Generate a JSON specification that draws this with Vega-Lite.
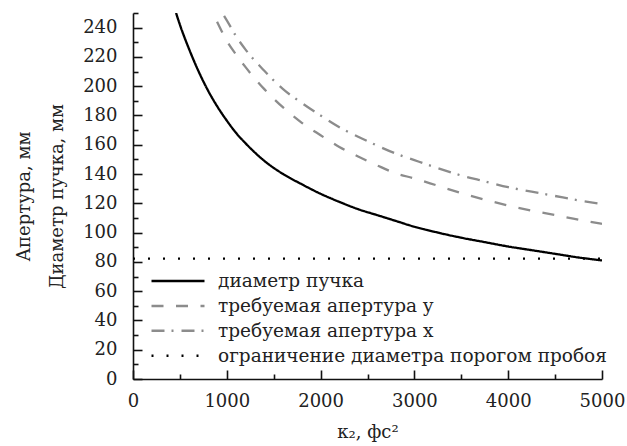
{
  "$schema": "https://vega.github.io/schema/vega-lite/v6.json",
  "autosize": "none",
  "width": 469,
  "height": 366,
  "padding": {"left": 133, "top": 13, "right": 25, "bottom": 67},
  "background": "white",
  "config": {
    "font": "DejaVu Serif",
    "view": {"stroke": null},
    "axis": {"grid": false, "domainColor": "#111", "domainWidth": 1.6, "tickColor": "#111", "tickWidth": 1.6,
             "labelFont": "DejaVu Serif", "labelFontSize": 18, "labelColor": "#222", "titleFont": "DejaVu Serif",
             "titleFontSize": 18, "titleFontWeight": "normal", "titleColor": "#222"}
  },
  "data": {"values": [
    {"s": "диаметр пучка", "k": 459, "v": 250},
    {"s": "диаметр пучка", "k": 500, "v": 242},
    {"s": "диаметр пучка", "k": 600, "v": 225},
    {"s": "диаметр пучка", "k": 700, "v": 210},
    {"s": "диаметр пучка", "k": 800, "v": 197},
    {"s": "диаметр пучка", "k": 900, "v": 186},
    {"s": "диаметр пучка", "k": 1000, "v": 176.5},
    {"s": "диаметр пучка", "k": 1100, "v": 168},
    {"s": "диаметр пучка", "k": 1200, "v": 161},
    {"s": "диаметр пучка", "k": 1400, "v": 149},
    {"s": "диаметр пучка", "k": 1600, "v": 140},
    {"s": "диаметр пучка", "k": 1800, "v": 133},
    {"s": "диаметр пучка", "k": 2000, "v": 126.5},
    {"s": "диаметр пучка", "k": 2200, "v": 121},
    {"s": "диаметр пучка", "k": 2400, "v": 116},
    {"s": "диаметр пучка", "k": 2600, "v": 112},
    {"s": "диаметр пучка", "k": 2800, "v": 108},
    {"s": "диаметр пучка", "k": 3000, "v": 104},
    {"s": "диаметр пучка", "k": 3250, "v": 100},
    {"s": "диаметр пучка", "k": 3500, "v": 96.5},
    {"s": "диаметр пучка", "k": 3750, "v": 93.5},
    {"s": "диаметр пучка", "k": 4000, "v": 90.5},
    {"s": "диаметр пучка", "k": 4250, "v": 88},
    {"s": "диаметр пучка", "k": 4500, "v": 85.5},
    {"s": "диаметр пучка", "k": 4750, "v": 83},
    {"s": "диаметр пучка", "k": 5000, "v": 81},
    {"s": "требуемая апертура y", "k": 896, "v": 244},
    {"s": "требуемая апертура y", "k": 1000, "v": 231},
    {"s": "требуемая апертура y", "k": 1100, "v": 221.5},
    {"s": "требуемая апертура y", "k": 1200, "v": 213},
    {"s": "требуемая апертура y", "k": 1400, "v": 198},
    {"s": "требуемая апертура y", "k": 1600, "v": 185.5},
    {"s": "требуемая апертура y", "k": 1800, "v": 175},
    {"s": "требуемая апертура y", "k": 2000, "v": 166.5},
    {"s": "требуемая апертура y", "k": 2200, "v": 158.5},
    {"s": "требуемая апертура y", "k": 2400, "v": 152},
    {"s": "требуемая апертура y", "k": 2600, "v": 146},
    {"s": "требуемая апертура y", "k": 2800, "v": 140.5},
    {"s": "требуемая апертура y", "k": 3000, "v": 137},
    {"s": "требуемая апертура y", "k": 3250, "v": 132},
    {"s": "требуемая апертура y", "k": 3500, "v": 127},
    {"s": "требуемая апертура y", "k": 3750, "v": 122.5},
    {"s": "требуемая апертура y", "k": 4000, "v": 118.5},
    {"s": "требуемая апертура y", "k": 4250, "v": 115},
    {"s": "требуемая апертура y", "k": 4500, "v": 112},
    {"s": "требуемая апертура y", "k": 4750, "v": 108.8},
    {"s": "требуемая апертура y", "k": 5000, "v": 106},
    {"s": "требуемая апертура x", "k": 971, "v": 248},
    {"s": "требуемая апертура x", "k": 1000, "v": 245},
    {"s": "требуемая апертура x", "k": 1100, "v": 234},
    {"s": "требуемая апертура x", "k": 1200, "v": 225},
    {"s": "требуемая апертура x", "k": 1400, "v": 210.5},
    {"s": "требуемая апертура x", "k": 1600, "v": 198},
    {"s": "требуемая апертура x", "k": 1800, "v": 188.5},
    {"s": "требуемая апертура x", "k": 2000, "v": 180},
    {"s": "требуемая апертура x", "k": 2200, "v": 172},
    {"s": "требуемая апертура x", "k": 2400, "v": 165.5},
    {"s": "требуемая апертура x", "k": 2600, "v": 159.5},
    {"s": "требуемая апертура x", "k": 2800, "v": 154},
    {"s": "требуемая апертура x", "k": 3000, "v": 149.5},
    {"s": "требуемая апертура x", "k": 3250, "v": 144},
    {"s": "требуемая апертура x", "k": 3500, "v": 139},
    {"s": "требуемая апертура x", "k": 3750, "v": 135},
    {"s": "требуемая апертура x", "k": 4000, "v": 131},
    {"s": "требуемая апертура x", "k": 4250, "v": 128},
    {"s": "требуемая апертура x", "k": 4500, "v": 125},
    {"s": "требуемая апертура x", "k": 4750, "v": 122},
    {"s": "требуемая апертура x", "k": 5000, "v": 119.5},
    {"s": "ограничение диаметра порогом пробоя", "k": 0, "v": 82.2},
    {"s": "ограничение диаметра порогом пробоя", "k": 5000, "v": 82.2}
  ]},
  "mark": {"type": "line", "strokeWidth": 2.3, "clip": true, "interpolate": "monotone"},
  "encoding": {
    "x": {"field": "k", "type": "quantitative",
          "scale": {"domain": [0, 5000], "nice": false, "zero": false},
          "axis": {"title": "κ₂, фс²", "values": [0,500,1000,1500,2000,2500,3000,3500,4000,4500,5000],
                   "labelExpr": "datum.value % 1000 === 0 ? datum.label : ''", "format": "d",
                   "tickSize": {"condition": {"test": "datum.value % 1000 === 0", "value": -9}, "value": -5},
                   "labelPadding": 22, "titlePadding": 13, "labelFlush": false}},
    "y": {"field": "v", "type": "quantitative",
          "scale": {"domain": [0, 250], "nice": false, "zero": false},
          "axis": {"title": ["Апертура, мм", "Диаметр пучка, мм"], "titleLineHeight": 33,
                   "values": [0,10,20,30,40,50,60,70,80,90,100,110,120,130,140,150,160,170,180,190,200,210,220,230,240,250],
                   "labelExpr": "datum.value % 20 === 0 ? datum.label : ''", "format": "d",
                   "tickSize": {"condition": {"test": "datum.value % 20 === 0", "value": -9}, "value": -5},
                   "labelPadding": 25, "titlePadding": 16, "labelFlush": false}},
    "color": {"field": "s", "type": "nominal",
              "scale": {"domain": ["диаметр пучка", "требуемая апертура y", "требуемая апертура x", "ограничение диаметра порогом пробоя"],
                        "range": ["#000000", "#8c8c8c", "#8c8c8c", "#000000"]},
              "legend": {"title": null, "orient": "none", "legendX": 17, "legendY": 258,
                         "symbolType": "stroke", "symbolSize": 2809, "symbolStrokeWidth": 2.5,
                         "labelFont": "DejaVu Serif", "labelFontSize": 18.5, "labelColor": "#222", "labelOffset": 12,
                         "clipHeight": 20, "rowPadding": 4.9, "padding": 0, "labelLimit": 500}},
    "strokeDash": {"field": "s", "type": "nominal",
                   "scale": {"domain": ["диаметр пучка", "требуемая апертура y", "требуемая апертура x", "ограничение диаметра порогом пробоя"],
                             "range": [[1, 0], [12, 12.5], [13, 7, 2, 8], [2, 13]]},
                   "legend": {"title": null, "orient": "none", "legendX": 17, "legendY": 258,
                              "symbolType": "stroke", "symbolSize": 2809, "symbolStrokeWidth": 2.5,
                              "labelFont": "DejaVu Serif", "labelFontSize": 18.5, "labelColor": "#222", "labelOffset": 12,
                              "clipHeight": 20, "rowPadding": 4.9, "padding": 0, "labelLimit": 500}}
  }
}
